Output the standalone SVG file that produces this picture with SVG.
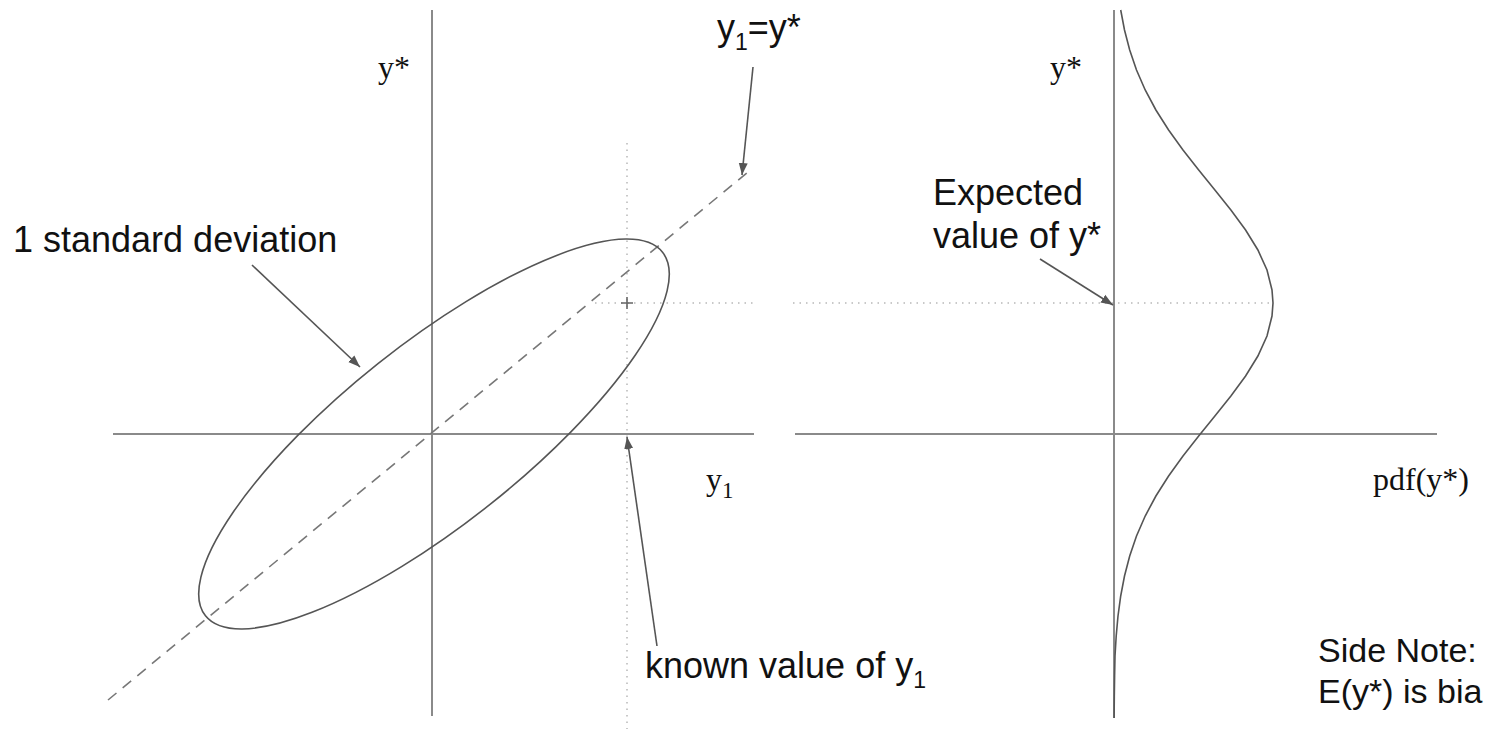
<svg xmlns="http://www.w3.org/2000/svg" width="1489" height="729" viewBox="0 0 1489 729">
<defs>
<style>
.axis{stroke:#8a8a8a;stroke-width:2;fill:none}
.dot{stroke:#b8b8b8;stroke-width:1.5;stroke-dasharray:1.5 5;fill:none}
.curve{stroke:#555;stroke-width:1.6;fill:none}
.dash{stroke:#777;stroke-width:1.6;stroke-dasharray:11 8;fill:none}
.arrow{stroke:#555;stroke-width:1.6;fill:none;marker-end:url(#ah)}
.sans{font-family:"Liberation Sans",Arial,sans-serif;font-size:36px;fill:#111}
.serif{font-family:"Liberation Serif","Times New Roman",serif;font-size:32px;fill:#111}
.sub{font-size:23px}
.note{font-size:34px}
</style>
<marker id="ah" viewBox="0 0 12 10" refX="12" refY="5" markerWidth="12" markerHeight="10" markerUnits="userSpaceOnUse" orient="auto">
<path d="M0,0.5 L12,5 L0,9.5 z" fill="#555"/>
</marker>
</defs>
<rect width="1489" height="729" fill="#fff"/>
<g id="left-plot">
<line class="axis" x1="432" y1="10" x2="432" y2="716"/>
<line class="axis" x1="113" y1="434" x2="754" y2="434"/>
<line class="dot" x1="627" y1="143" x2="627" y2="729"/>
<line class="dot" x1="595" y1="303" x2="757" y2="303"/>
<path d="M621,303 H633 M627,297 V309" stroke="#666" stroke-width="1.6"/>
<line class="dash" x1="108" y1="700" x2="748" y2="172"/>
<ellipse class="curve" cx="434" cy="434" rx="292" ry="90" transform="rotate(-38.5 434 434)"/>
</g>
<g id="right-plot">
<line class="axis" x1="1114" y1="10" x2="1114" y2="718"/>
<line class="axis" x1="795" y1="434" x2="1437" y2="434"/>
<line class="dot" x1="793" y1="303" x2="1272" y2="303"/>
<path class="curve" d="M1120.7,10 L1124.5,30 L1129.7,50 L1136.5,70 L1145.2,90 L1155.9,110 L1168.6,130 L1183,150 L1198.7,170 L1214.9,190 L1230.9,210 L1245.6,230 L1257.9,250 L1267,270 L1272,290 L1273,303 L1272,316 L1267,336 L1257.9,356 L1245.6,376 L1230.9,396 L1214.9,416 L1198.7,436 L1183,456 L1168.6,476 L1155.9,496 L1145.2,516 L1136.5,536 L1129.7,556 L1124.5,576 L1120.7,596 L1118,616 L1116.2,636 L1115,656 L1114.6,676 L1114.3,697 L1114.1,718"/>
</g>
<g id="labels">
<text class="serif" x="378" y="78">y*</text>
<text class="serif" x="1050" y="78">y*</text>
<text class="serif" x="706" y="490">y<tspan class="sub" dy="8">1</tspan></text>
<text class="serif" x="1373" y="490">pdf(y*)</text>
<text class="sans" x="717" y="40">y<tspan class="sub" dy="10">1</tspan><tspan dy="-10">=y*</tspan></text>
<text class="sans" x="13" y="252">1 standard deviation</text>
<text class="sans" x="933" y="205">Expected</text>
<text class="sans" x="933" y="248">value of y*</text>
<text class="sans" x="645" y="678">known value of y<tspan class="sub" dy="10">1</tspan></text>
<text class="sans note" x="1318" y="662">Side Note:</text>
<text class="sans note" x="1318" y="703">E(y*) is bia</text>
</g>
<g id="connectors">
<line class="arrow" x1="753" y1="67" x2="742" y2="175"/>
<line class="arrow" x1="252" y1="265" x2="360" y2="367"/>
<line class="arrow" x1="657" y1="646" x2="627" y2="437"/>
<line class="arrow" x1="1040" y1="259" x2="1113" y2="305"/>
</g>
</svg>
